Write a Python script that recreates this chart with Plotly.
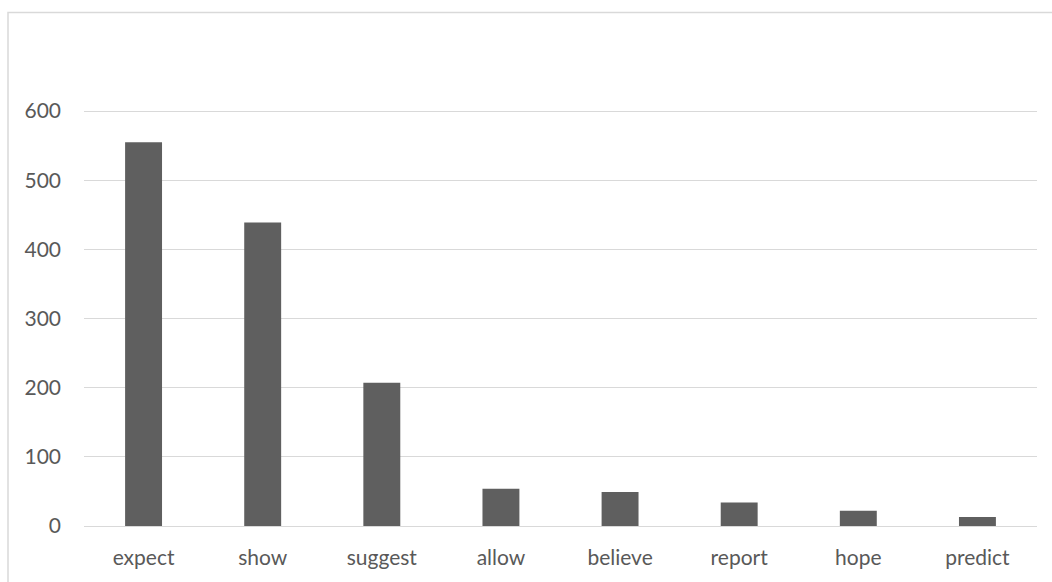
import plotly.graph_objects as go

categories = ["expect", "show", "suggest", "allow", "believe", "report", "hope", "predict"]
values = [555, 439, 207, 54, 49, 34, 22, 13]
y_ticks = [0, 100, 200, 300, 400, 500, 600]

W, H = 1052, 582
ML, MR, MB = 84, 15, 56
unit_px = 415 / 600.0          # pixels per value unit
y_max = 700
MT = int(round(H - MB - y_max * unit_px))
pw = W - ML - MR
ph = H - MT - MB

def px_to_paper_x(px):
    return (px - ML) / pw

def px_to_paper_y(py):
    return (H - MB - py) / ph

fig = go.Figure()
fig.add_trace(go.Bar(
    x=categories, y=values,
    marker=dict(color="#5f5f5f", line=dict(width=0)),
))

font = dict(family="Lato, Calibri, Carlito, sans-serif", size=21, color="#595959")

fig.update_layout(
    width=W, height=H,
    margin=dict(l=ML, r=MR, t=MT, b=MB, pad=0),
    paper_bgcolor="white", plot_bgcolor="white",
    bargap=0.69,
    showlegend=False,
    font=font,
    xaxis=dict(showgrid=False, showline=False, zeroline=False, ticks="",
               tickfont=font, ticklabelstandoff=17),
    yaxis=dict(range=[0, y_max], tickvals=y_ticks, showgrid=True,
               gridcolor="#d9d9d9", gridwidth=1.3, zeroline=True,
               zerolinecolor="#d9d9d9", zerolinewidth=1.3, showline=False,
               ticks="", tickfont=font, ticklabelstandoff=22),
    shapes=[
        dict(type="rect", xref="paper", yref="paper",
             x0=px_to_paper_x(8), x1=px_to_paper_x(W + 20),
             y0=px_to_paper_y(H + 20), y1=px_to_paper_y(12.5),
             line=dict(color="#d9d9d9", width=1.5), fillcolor="rgba(0,0,0,0)",
             layer="below"),
    ],
)

fig.write_html("out.html")
